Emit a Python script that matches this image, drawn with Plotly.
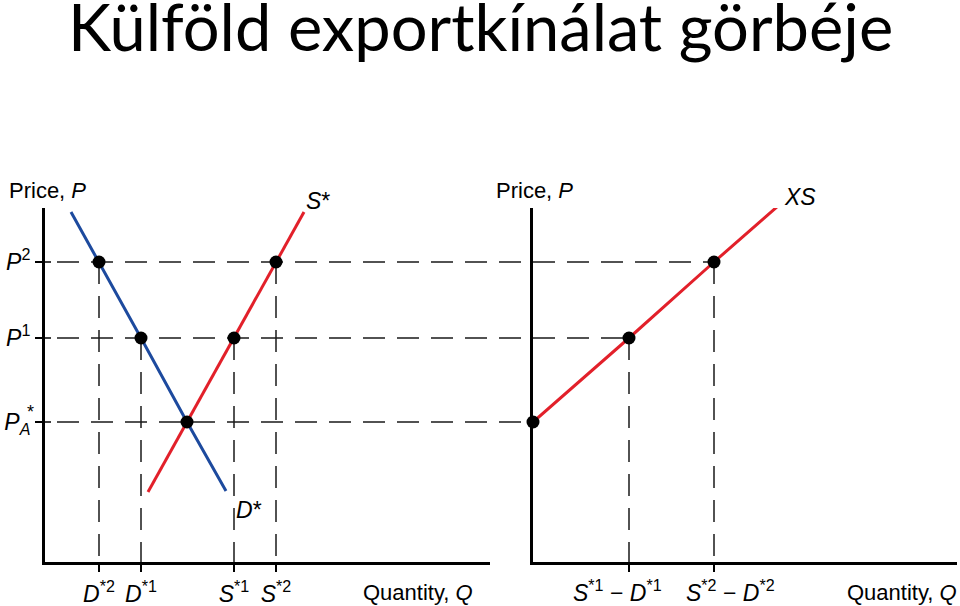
import plotly.graph_objects as go

# ---- data (economic units) ----
price_levels = {"PA": 7.0, "P1": 11.2, "P2": 15.0}
demand_q = [1.3, 2.7, 4.8, 7.1, 9.05]
demand_p = [17.5, 15.0, 11.2, 7.0, 3.55]
supply_q = [5.15, 7.1, 9.45, 11.55, 12.95]
supply_p = [3.5, 7.0, 11.2, 15.0, 17.5]
xs_q = [0.0, 4.8, 9.05, 12.25]
xs_p = [7.0, 11.2, 15.0, 17.8]

dot_left_q = [2.7, 4.8, 7.1, 9.45, 11.55]
dot_left_p = [15.0, 11.2, 7.0, 11.2, 15.0]
dot_right_q = [0.0, 4.8, 9.05]
dot_right_p = [7.0, 11.2, 15.0]

left_ticks_q = [2.7, 4.8, 9.45, 11.55]
left_ticks_text = ["<i>D</i><sup>*2</sup>", "<i>D</i><sup>*1</sup>",
                   "<i>S</i><sup>*1</sup>", "<i>S</i><sup>*2</sup>"]
right_ticks_q = [4.8, 9.05]
right_ticks_text = ["<i>S</i><sup>*1</sup> − <i>D</i><sup>*1</sup>",
                    "<i>S</i><sup>*2</sup> − <i>D</i><sup>*2</sup>"]
y_ticks = [7.0, 11.2, 15.0]
y_ticks_text = ["<i>P</i><sub><i>A</i></sub>", "<i>P</i><sup>1</sup>", "<i>P</i><sup>2</sup>"]

# ---- layout geometry ----
W, H = 960, 606
dom_x1 = [45 / W, 490 / W]
dom_x2 = [533 / W, 957 / W]
dom_y = [(H - 562) / H, (H - 208) / H]
rng_x1 = [0, 22.25]
rng_x2 = [0, 21.2]
rng_y = [0, 17.7]

RED = "#e2202a"
BLUE = "#1d4a9e"
FONT = "Liberation Sans, Arial, sans-serif"


def to_paper_x(dom, rng, q):
    return dom[0] + (q - rng[0]) / (rng[1] - rng[0]) * (dom[1] - dom[0])


def to_paper_y(p):
    return dom_y[0] + (p - rng_y[0]) / (rng_y[1] - rng_y[0]) * (dom_y[1] - dom_y[0])


fig = go.Figure()
fig.add_trace(go.Scatter(x=demand_q, y=demand_p, mode="lines",
                         line=dict(color=BLUE, width=3), xaxis="x", yaxis="y",
                         cliponaxis=False))
fig.add_trace(go.Scatter(x=supply_q, y=supply_p, mode="lines",
                         line=dict(color=RED, width=3), xaxis="x", yaxis="y",
                         cliponaxis=False))
fig.add_trace(go.Scatter(x=xs_q, y=xs_p, mode="lines",
                         line=dict(color=RED, width=3), xaxis="x2", yaxis="y2",
                         cliponaxis=False))
fig.add_trace(go.Scatter(x=dot_left_q, y=dot_left_p, mode="markers",
                         marker=dict(color="black", size=13), xaxis="x", yaxis="y",
                         cliponaxis=False))
fig.add_trace(go.Scatter(x=dot_right_q, y=dot_right_p, mode="markers",
                         marker=dict(color="black", size=13), xaxis="x2", yaxis="y2",
                         cliponaxis=False))

shapes = []
dash = "22px,12px"
DCOL = "#1a1a1a"
# horizontal dashed lines spanning both panels
for p, q_end in [(price_levels["P2"], xs_q[2]), (price_levels["P1"], xs_q[1]),
                 (price_levels["PA"], xs_q[0])]:
    shapes.append(dict(type="line", xref="paper", yref="y",
                       x0=dom_x1[0] + 12 / W, x1=to_paper_x(dom_x2, rng_x2, q_end),
                       y0=p, y1=p, line=dict(color=DCOL, width=1.5, dash=dash),
                       layer="below"))
    # inner half of the crossing tick on the price axis
    shapes.append(dict(type="line", xref="paper", yref="y",
                       x0=dom_x1[0], x1=dom_x1[0] + 6 / W, y0=p, y1=p,
                       line=dict(color="black", width=1.5)))
# vertical dashed lines
for q, p in zip(left_ticks_q, [15.0, 11.2, 11.2, 15.0]):
    shapes.append(dict(type="line", xref="x", yref="y", x0=q, x1=q, y0=p, y1=0,
                       line=dict(color=DCOL, width=1.5, dash=dash), layer="below"))
for q, p in zip(right_ticks_q, [11.2, 15.0]):
    shapes.append(dict(type="line", xref="x2", yref="y2", x0=q, x1=q, y0=p, y1=0,
                       line=dict(color=DCOL, width=1.5, dash=dash), layer="below"))

ann = []
ann.append(dict(text="Külföld exportkínálat görbéje", xref="paper", yref="paper",
                x=0.5, y=1.0, xanchor="center", yanchor="top", yshift=15, showarrow=False,
                font=dict(family="Lato, Carlito, sans-serif", size=65, color="black")))
for xp in [7 / W, 494 / W]:
    ann.append(dict(text="Price, <i>P</i>", xref="paper", yref="paper", x=xp,
                    y=(H - 190) / H, xanchor="left", yanchor="middle", showarrow=False,
                    font=dict(family=FONT, size=22, color="black")))
for xp in [475 / W, 959 / W]:
    ann.append(dict(text="Quantity, <i>Q</i>", xref="paper", yref="paper", x=xp,
                    y=(H - 592) / H, xanchor="right", yanchor="middle", showarrow=False,
                    font=dict(family=FONT, size=22, color="black")))
ann.append(dict(text="<i>S</i>*", xref="paper", yref="paper",
                x=to_paper_x(dom_x1, rng_x1, supply_q[-1]), y=to_paper_y(supply_p[-1]),
                xanchor="left", yanchor="bottom", xshift=0, yshift=-4, showarrow=False,
                font=dict(family=FONT, size=23, color="black")))
ann.append(dict(text="<i>XS</i>", xref="paper", yref="paper",
                x=to_paper_x(dom_x2, rng_x2, xs_q[-1]), y=to_paper_y(xs_p[-1]),
                xanchor="left", yanchor="bottom", xshift=4, yshift=-6, showarrow=False,
                font=dict(family=FONT, size=23, color="black")))
ann.append(dict(text="<i>D</i>*", xref="paper", yref="paper",
                x=to_paper_x(dom_x1, rng_x1, demand_q[-1]), y=to_paper_y(demand_p[-1]),
                xanchor="left", yanchor="top", xshift=8, yshift=-4, showarrow=False,
                font=dict(family=FONT, size=23, color="black")))
ann.append(dict(text="*", xref="paper", yref="paper", x=25 / W,
                y=to_paper_y(price_levels["PA"]),
                xanchor="left", yanchor="bottom", yshift=-2, showarrow=False,
                font=dict(family=FONT, size=18, color="black")))
# right-panel tick labels (offset sideways as in the original so they don't collide)
for q, txt, shift in zip(right_ticks_q, right_ticks_text, [-12, 16]):
    ann.append(dict(text=txt, xref="paper", yref="paper",
                    x=to_paper_x(dom_x2, rng_x2, q), y=(H - 591) / H,
                    xanchor="center", yanchor="middle", xshift=shift, showarrow=False,
                    borderpad=0,
                    font=dict(family=FONT, size=23, color="black")))

axis_common = dict(showgrid=False, zeroline=False, showline=True, linecolor="black",
                   linewidth=3, ticks="outside", tickcolor="black", tickwidth=1.5,
                   ticklen=7, tickfont=dict(family=FONT, size=23, color="black"),
                   automargin=False, fixedrange=True, tickangle=0)

fig.update_layout(
    width=W, height=H, margin=dict(l=0, r=0, t=0, b=0),
    paper_bgcolor="white", plot_bgcolor="white", showlegend=False,
    xaxis=dict(domain=dom_x1, range=rng_x1, anchor="y", tickvals=left_ticks_q,
               ticktext=left_ticks_text, ticklabelstandoff=2, **axis_common),
    yaxis=dict(domain=dom_y, range=rng_y, anchor="x", tickvals=y_ticks,
               ticktext=y_ticks_text, ticklabelstandoff=0, **axis_common),
    xaxis2=dict(domain=dom_x2, range=rng_x2, anchor="y2", tickvals=right_ticks_q,
                ticktext=["", ""], ticklabelstandoff=2, **axis_common),
    yaxis2=dict(domain=dom_y, range=rng_y, anchor="x2", tickvals=[],
                **axis_common),
    shapes=shapes, annotations=ann,
)
fig.write_html("out.html", config={"displayModeBar": False},
               post_script="document.body.style.margin='0';document.body.style.padding='0';")
